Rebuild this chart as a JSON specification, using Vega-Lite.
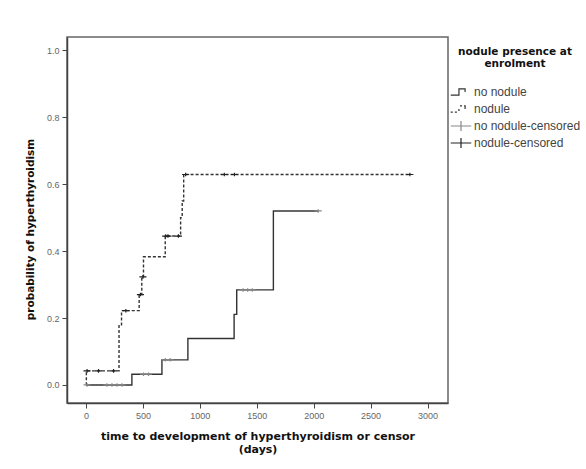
{
  "$schema": "https://vega.github.io/schema/vega-lite/v6.json",
  "width": 381,
  "height": 366,
  "autosize": {"type": "none"},
  "padding": {"left": 67, "top": 37, "right": 138, "bottom": 66},
  "background": "white",
  "config": {
    "view": {"stroke": "#666", "strokeWidth": 1.5},
    "axis": {"grid": false, "domain": true, "domainColor": "#444", "domainWidth": 1.5, "tickColor": "#444", "tickSize": 5, "labelFont": "Liberation Sans", "labelFontSize": 9, "labelColor": "#666", "titleFont": "DejaVu Sans", "titleFontWeight": "bold", "titleColor": "#111"}
  },
  "datasets": {
    "curves": [
      {"time": 0, "prob": 0, "group": "no nodule"},
      {"time": 403, "prob": 0.032, "group": "no nodule"},
      {"time": 667, "prob": 0.075, "group": "no nodule"},
      {"time": 895, "prob": 0.139, "group": "no nodule"},
      {"time": 1301, "prob": 0.211, "group": "no nodule"},
      {"time": 1324, "prob": 0.284, "group": "no nodule"},
      {"time": 1646, "prob": 0.52, "group": "no nodule"},
      {"time": 2040, "prob": 0.52, "group": "no nodule"},
      {"time": 0, "prob": 0, "group": "nodule"},
      {"time": 3, "prob": 0.042, "group": "nodule"},
      {"time": 290, "prob": 0.18, "group": "nodule"},
      {"time": 312, "prob": 0.222, "group": "nodule"},
      {"time": 467, "prob": 0.27, "group": "nodule"},
      {"time": 490, "prob": 0.323, "group": "nodule"},
      {"time": 505, "prob": 0.383, "group": "nodule"},
      {"time": 696, "prob": 0.445, "group": "nodule"},
      {"time": 831, "prob": 0.5, "group": "nodule"},
      {"time": 845, "prob": 0.55, "group": "nodule"},
      {"time": 858, "prob": 0.629, "group": "nodule"},
      {"time": 2845, "prob": 0.629, "group": "nodule"}
    ],
    "censored": [
      {"time": 9, "prob": 0, "status": "no nodule-censored"},
      {"time": 184, "prob": 0, "status": "no nodule-censored"},
      {"time": 228, "prob": 0, "status": "no nodule-censored"},
      {"time": 272, "prob": 0, "status": "no nodule-censored"},
      {"time": 316, "prob": 0, "status": "no nodule-censored"},
      {"time": 505, "prob": 0.032, "status": "no nodule-censored"},
      {"time": 549, "prob": 0.032, "status": "no nodule-censored"},
      {"time": 696, "prob": 0.075, "status": "no nodule-censored"},
      {"time": 739, "prob": 0.075, "status": "no nodule-censored"},
      {"time": 1380, "prob": 0.284, "status": "no nodule-censored"},
      {"time": 1420, "prob": 0.284, "status": "no nodule-censored"},
      {"time": 1460, "prob": 0.284, "status": "no nodule-censored"},
      {"time": 2040, "prob": 0.52, "status": "no nodule-censored"},
      {"time": 9, "prob": 0.042, "status": "nodule-censored"},
      {"time": 110, "prob": 0.042, "status": "nodule-censored"},
      {"time": 242, "prob": 0.042, "status": "nodule-censored"},
      {"time": 350, "prob": 0.222, "status": "nodule-censored"},
      {"time": 478, "prob": 0.27, "status": "nodule-censored"},
      {"time": 500, "prob": 0.323, "status": "nodule-censored"},
      {"time": 700, "prob": 0.445, "status": "nodule-censored"},
      {"time": 720, "prob": 0.445, "status": "nodule-censored"},
      {"time": 812, "prob": 0.445, "status": "nodule-censored"},
      {"time": 875, "prob": 0.629, "status": "nodule-censored"},
      {"time": 1215, "prob": 0.629, "status": "nodule-censored"},
      {"time": 1304, "prob": 0.629, "status": "nodule-censored"},
      {"time": 2845, "prob": 0.629, "status": "nodule-censored"}
    ]
  },
  "layer": [
    {
      "data": {"name": "curves"},
      "mark": {"type": "line", "interpolate": "step-after", "color": "#333", "strokeWidth": 1.4},
      "encoding": {
        "x": {"field": "time", "type": "quantitative", "scale": {"domain": [-167, 3180], "nice": false, "zero": false},
              "axis": {"values": [0, 500, 1000, 1500, 2000, 2500, 3000], "format": "d", "title": ["time to development of hyperthyroidism or censor", "(days)"], "titleFontSize": 11, "titleLineHeight": 13, "titlePadding": 10, "labelPadding": 3}},
        "y": {"field": "prob", "type": "quantitative", "scale": {"domain": [-0.054, 1.04], "nice": false, "zero": false},
              "axis": {"values": [0, 0.2, 0.4, 0.6, 0.8, 1.0], "format": ".1f", "title": "probability of hyperthyroidism", "titleFontSize": 10.5, "titlePadding": 11, "titleY": 192, "labelPadding": 3}},
        "detail": {"field": "group"},
        "strokeDash": {"field": "group", "type": "nominal", "scale": {"domain": ["no nodule", "nodule"], "range": [[1, 0], [3, 2]]}, "legend": null}
      }
    },
    {
      "data": {"name": "censored"},
      "mark": {"type": "point", "filled": false, "size": 50, "strokeWidth": 1.2, "opacity": 1},
      "encoding": {
        "x": {"field": "time", "type": "quantitative"},
        "y": {"field": "prob", "type": "quantitative"},
        "shape": {"field": "status", "type": "nominal",
          "scale": {"domain": ["no nodule", "nodule", "no nodule-censored", "nodule-censored"],
                    "range": ["M-1,0.3H-0.2V-0.3H0.4V0", "M-1,0.3H-0.8M-0.6,0.3H-0.4M-0.2,0.2V0M-0.1,-0.3H0.1M0.3,-0.3H0.4V0", "M-1,0H1M0,-0.5V0.5", "M-1,0H1M0,-0.5V0.5"]}},
        "color": {"field": "status", "type": "nominal",
          "scale": {"domain": ["no nodule", "nodule", "no nodule-censored", "nodule-censored"],
                    "range": ["#333", "#333", "#888", "#222"]},
          "legend": {"orient": "none", "legendX": 383, "legendY": 10,
                     "title": ["nodule presence at", "enrolment"], "titleFont": "DejaVu Sans", "titleFontWeight": "bold", "titleFontSize": 10.5, "titleLineHeight": 12, "titleColor": "#111", "titleAlign": "center", "titleAnchor": "middle", "titlePadding": 14,
                     "labelFont": "Liberation Sans", "labelFontSize": 12, "labelColor": "#444", "labelOffset": 2,
                     "symbolSize": 420, "symbolStrokeWidth": 1.2, "clipHeight": 17, "rowPadding": 0}}
      }
    }
  ]
}
